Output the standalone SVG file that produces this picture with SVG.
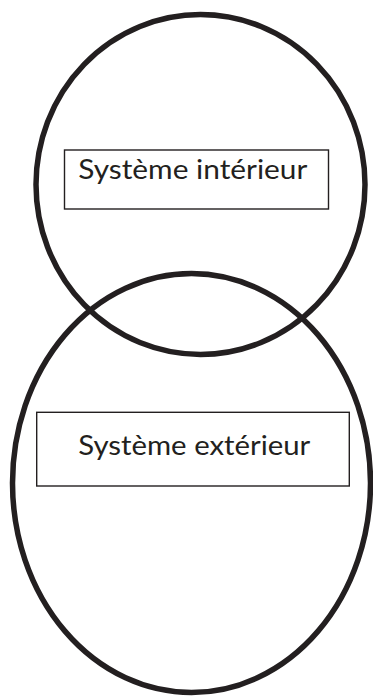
<svg xmlns="http://www.w3.org/2000/svg" width="373" height="696" viewBox="0 0 373 696">
  <style>
    .sys { fill: none; stroke: #231f20; stroke-width: 5.5; }
    .box { fill: none; stroke: #231f20; stroke-width: 1.4; }
    .lbl { font-family: Lato, "Open Sans", "Liberation Sans", sans-serif; font-size: 26px; fill: #231f20; }
  </style>
  <rect width="373" height="696" fill="#ffffff"/>
  <g id="exterieur">
    <ellipse class="sys" cx="191.5" cy="483" rx="179" ry="209.5"/>
    <rect class="box" x="36.7" y="412.3" width="312.6" height="73.7"/>
    <text class="lbl" x="78.3" y="455" textLength="232" lengthAdjust="spacingAndGlyphs">Système extérieur</text>
  </g>
  <g id="interieur">
    <ellipse class="sys" cx="200.5" cy="184.5" rx="164.5" ry="170"/>
    <rect class="box" x="64.5" y="150" width="264" height="59"/>
    <text class="lbl" x="78.3" y="179" textLength="229" lengthAdjust="spacingAndGlyphs">Système intérieur</text>
  </g>
  <g id="connectors"></g>
</svg>
